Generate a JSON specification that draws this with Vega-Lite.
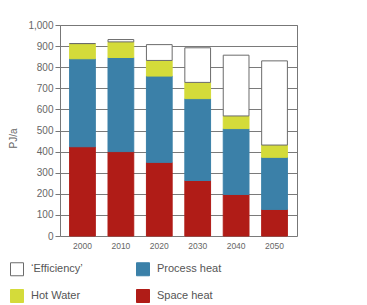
{
  "$schema": "https://vega.github.io/schema/vega-lite/v6.json",
  "autosize": {"type": "none"},
  "padding": {"left": 60, "top": 25, "right": 70, "bottom": 69},
  "width": 237,
  "height": 211,
  "background": "white",
  "config": {
    "view": {"stroke": null},
    "font": "Liberation Sans",
    "axis": {"labelColor": "#666666", "titleColor": "#666666", "labelFont": "Liberation Sans", "titleFont": "Liberation Sans"},
    "legend": {"labelFont": "Liberation Sans"}
  },
  "data": {
    "values": [
      {"year": "2000", "cat": "Space heat", "o": 1, "v": 423},
      {"year": "2000", "cat": "Process heat", "o": 2, "v": 417},
      {"year": "2000", "cat": "Hot Water", "o": 3, "v": 72},
      {"year": "2000", "cat": "‘Efficiency’", "o": 4, "v": 0},
      {"year": "2010", "cat": "Space heat", "o": 1, "v": 400},
      {"year": "2010", "cat": "Process heat", "o": 2, "v": 446},
      {"year": "2010", "cat": "Hot Water", "o": 3, "v": 74},
      {"year": "2010", "cat": "‘Efficiency’", "o": 4, "v": 11},
      {"year": "2020", "cat": "Space heat", "o": 1, "v": 349},
      {"year": "2020", "cat": "Process heat", "o": 2, "v": 409},
      {"year": "2020", "cat": "Hot Water", "o": 3, "v": 74},
      {"year": "2020", "cat": "‘Efficiency’", "o": 4, "v": 75},
      {"year": "2030", "cat": "Space heat", "o": 1, "v": 263},
      {"year": "2030", "cat": "Process heat", "o": 2, "v": 388},
      {"year": "2030", "cat": "Hot Water", "o": 3, "v": 77},
      {"year": "2030", "cat": "‘Efficiency’", "o": 4, "v": 164},
      {"year": "2040", "cat": "Space heat", "o": 1, "v": 197},
      {"year": "2040", "cat": "Process heat", "o": 2, "v": 312},
      {"year": "2040", "cat": "Hot Water", "o": 3, "v": 60},
      {"year": "2040", "cat": "‘Efficiency’", "o": 4, "v": 288},
      {"year": "2050", "cat": "Space heat", "o": 1, "v": 126},
      {"year": "2050", "cat": "Process heat", "o": 2, "v": 247},
      {"year": "2050", "cat": "Hot Water", "o": 3, "v": 58},
      {"year": "2050", "cat": "‘Efficiency’", "o": 4, "v": 399}
    ]
  },
  "resolve": {"axis": {"x": "independent", "y": "independent"}},
  "layer": [
    {
      "mark": {"type": "bar", "strokeWidth": 1},
      "encoding": {
        "x": {
          "field": "year", "type": "nominal",
          "scale": {"paddingInner": 0.33, "paddingOuter": 0.25},
          "axis": {"title": null, "labelAngle": 0, "ticks": false, "domain": false, "labelFontSize": 8.5, "labelPadding": 5}
        },
        "y": {
          "field": "v", "type": "quantitative", "stack": "zero",
          "scale": {"domain": [0, 1000], "nice": false},
          "axis": {"title": "PJ/a", "titleFontSize": 10, "titleFontWeight": "normal", "titlePadding": 9, "titleY": 113,
                   "values": [0,100,200,300,400,500,600,700,800,900,1000], "format": ",.0f",
                   "labelFontSize": 10, "labelPadding": 2, "tickSize": 5, "tickColor": "#777777",
                   "domainColor": "#777777", "gridColor": "#7a7a7a", "gridOpacity": 1, "grid": true}
        },
        "order": {"field": "o", "type": "quantitative"},
        "fill": {
          "field": "cat", "type": "nominal",
          "scale": {"domain": ["‘Efficiency’", "Hot Water", "Process heat", "Space heat"],
                    "range": ["#ffffff", "#d4db3a", "#3b80a8", "#b01c17"]},
          "legend": {"title": null, "orient": "none", "legendX": -50, "legendY": 237, "columns": 2,
                     "columnPadding": 51, "rowPadding": 9, "symbolType": "square", "symbolSize": 169,
                     "symbolStrokeWidth": 1, "labelFontSize": 11, "labelColor": "#555555", "labelOffset": 7}
        },
        "stroke": {
          "field": "cat", "type": "nominal",
          "scale": {"domain": ["‘Efficiency’", "Hot Water", "Process heat", "Space heat"],
                    "range": ["#6b6b6b", "#d4db3a", "#3b80a8", "#b01c17"]},
          "legend": {"title": null, "orient": "none", "legendX": -50, "legendY": 237, "columns": 2,
                     "columnPadding": 51, "rowPadding": 9, "symbolType": "square", "symbolSize": 169,
                     "symbolStrokeWidth": 1, "labelFontSize": 11, "labelColor": "#555555", "labelOffset": 7}
        }
      }
    },
    {
      "mark": {"type": "bar", "opacity": 0},
      "encoding": {
        "x": {"field": "year", "type": "nominal",
              "axis": {"orient": "top", "title": null, "labels": false, "ticks": false, "domain": true, "domainColor": "#777777", "grid": false}},
        "y": {"field": "v", "type": "quantitative", "stack": "zero",
              "axis": {"orient": "right", "title": null, "labels": false, "ticks": false, "domain": true, "domainColor": "#777777", "grid": false}}
      }
    }
  ]
}
